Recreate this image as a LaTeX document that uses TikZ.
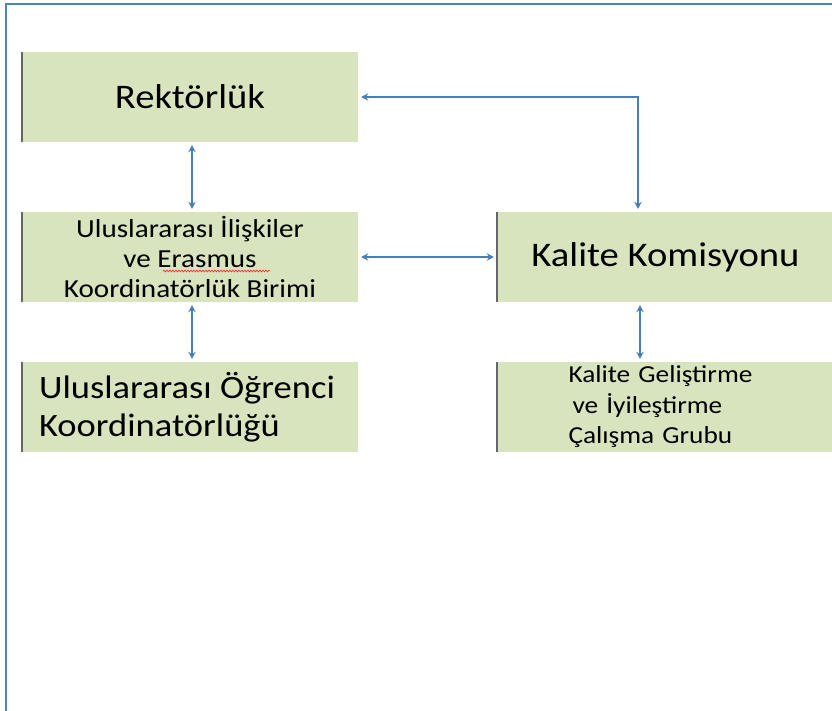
\documentclass[tikz,border=0pt]{standalone}
\usepackage{fontspec}
\setmainfont[FakeStretch=1.12]{Carlito}
\usetikzlibrary{arrows.meta,decorations.pathmorphing}
\definecolor{boxgreen}{RGB}{215,228,189}
\definecolor{linkblue}{RGB}{74,126,187}
\definecolor{frameblue}{RGB}{79,129,189}
\begin{document}
\begin{tikzpicture}[x=1pt,y=-1pt,
  box/.style={draw=none,fill=boxgreen,minimum height=90pt,inner sep=0pt,text=black},
  lbox/.style={box,minimum width=336pt},
  rbox/.style={box,minimum width=337pt},
  arr/.style={draw=linkblue,line width=2.6pt,{Stealth[length=7pt,width=7.5pt]}-{Stealth[length=7pt,width=7.5pt]},shorten <=3pt,shorten >=3pt},
  frame/.style={draw=frameblue,line width=2.4pt},
  edge/.style={draw=gray!80!black,line width=1.4pt}]
\useasboundingbox (0,0) rectangle (832,710);
\fill[white] (0,0) rectangle (832,710);
\draw[frame] (6,712) -- (6,4) -- (834,4);
% boxes
\node[lbox,font={\fontsize{34.5}{42}\selectfont}] (rek) at (190,97) {Rektörlük};
\node[lbox,align=center,font={\fontsize{26}{30}\selectfont}] (ulus) at (190,257) {Uluslararası İlişkiler\\ve Erasmus\\Koordinatörlük Birimi};
\node[lbox,align=left,font={\fontsize{32.6}{38}\selectfont},inner xsep=0pt] (ogr) at (190,407) {Uluslararası Öğrenci\hspace*{6pt}\\Koordinatörlüğü};
\node[rbox,font={\fontsize{34.5}{42}\selectfont}] (kk) at (665.5,257) {Kalite Komisyonu};
\node[rbox,align=left,text width=194pt,font={\fontsize{24.4}{30.5}\selectfont}] (kg) at (665.5,407) {Kalite Geliştirme\\\hspace*{4pt}ve İyileştirme\\Çalışma Grubu};
% left shadow edges
\foreach \b in {rek,ulus,ogr,kk,kg}{\draw[edge] (\b.north west) -- (\b.south west);}
% spell-check underline
\draw[red!80,line width=0.7pt,decoration={snake,amplitude=0.9pt,segment length=3pt},decorate] (163,271) -- (270,271);
% connectors
\draw[arr] ([xshift=2pt]rek.south) -- ([xshift=2pt]ulus.north);
\draw[arr] ([xshift=2pt]ulus.south) -- ([xshift=2pt]ogr.north);
\draw[arr] (ulus.east) -- (kk.west);
\draw[arr] ([xshift=-27.5pt]kk.north) |- (rek.east);
\draw[arr] ([xshift=-25.5pt]kk.south) -- ([xshift=-25.5pt]kg.north);
\end{tikzpicture}
\end{document}
